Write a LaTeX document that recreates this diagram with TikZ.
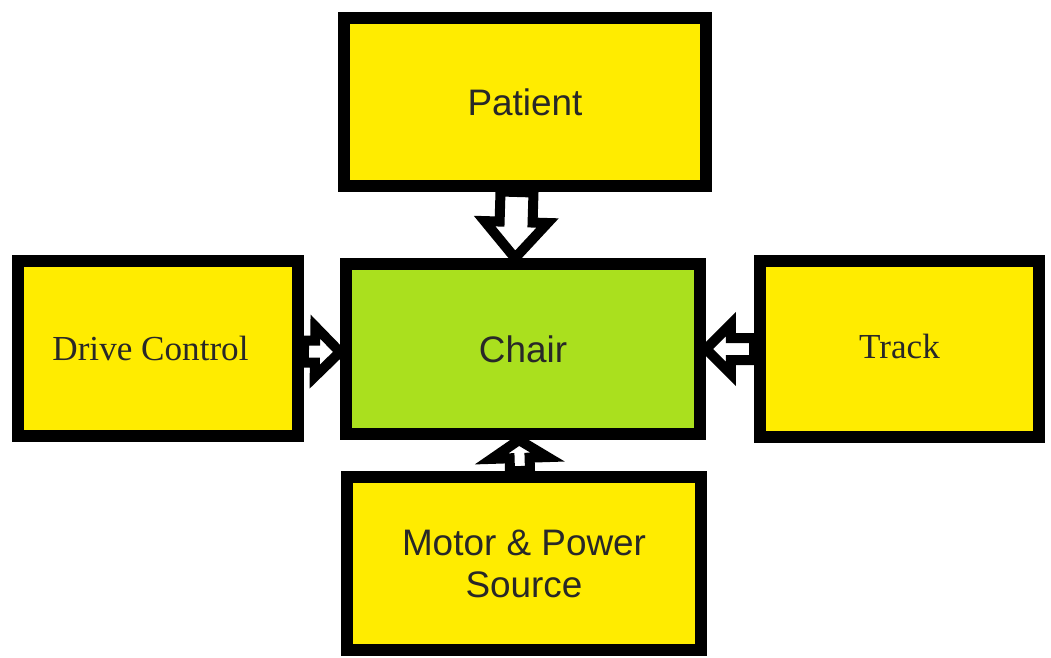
\documentclass[tikz,border=0pt]{standalone}
\usepackage{fontspec}
\setmainfont{Liberation Sans}
\newfontfamily\serifbox{Liberation Serif}
\usetikzlibrary{calc}

\definecolor{boxyellow}{RGB}{255,236,0}
\definecolor{chairgreen}{RGB}{170,224,30}
\definecolor{labelgray}{RGB}{40,40,40}

\tikzset{
	box/.style={draw=black, line width=0.24cm, text=labelgray, align=center,
		inner sep=0pt, font=\fontsize{21}{21}\selectfont},
	% hollow block arrow: shaft half width, head half width, head length
	blockarrow/.style n args={3}{draw=black, line width=0.2cm, fill=white,
		to path={
			let \p1=($(\tikztotarget)!#3!(\tikztostart)$) in
			($(\tikztostart)!#1!90:(\tikztotarget)$)
			-- ($(\p1)!#1!90:(\tikztotarget)$)
			-- ($(\p1)!#2!90:(\tikztotarget)$)
			-- (\tikztotarget)
			-- ($(\p1)!#2!-90:(\tikztotarget)$)
			-- ($(\p1)!#1!-90:(\tikztotarget)$)
			-- ($(\tikztostart)!#1!-90:(\tikztotarget)$)
			-- cycle
		}}
}

\begin{document}
\begin{tikzpicture}[x=0.02cm, y=-0.02cm]
	
	\useasboundingbox (0,0) rectangle (1051,657);
	
	% --- boxes ---
	\node[box, fill=boxyellow, minimum width=7.24cm, minimum height=3.36cm] (patient) at (525,102) {Patient};
	\node[box, fill=chairgreen, minimum width=7.08cm, minimum height=3.4cm] (chair) at (523,349) {Chair};
	\node[box, fill=boxyellow, minimum width=5.6cm, minimum height=3.5cm,
		font=\serifbox\fontsize{20}{20}\selectfont] (drive) at (158,348.5) {\hspace*{-0.3cm}Drive Control};
	\node[box, fill=boxyellow, minimum width=5.58cm, minimum height=3.52cm,
		font=\serifbox\fontsize{20}{20}\selectfont] (track) at (899.5,349) {\raisebox{0.12cm}{Track}};
	\node[box, fill=boxyellow, minimum width=7.08cm, minimum height=3.46cm] (motor) at (524,563.5) {Motor \& Power\\[0.1cm]Source};
	
	% --- arrows into the chair ---
	\draw[blockarrow={0.33cm}{0.63cm}{0.72cm}] ([xshift=-0.16cm]patient.south) to ([xshift=-0.16cm]chair.north);
	\draw[blockarrow={0.22cm}{0.5cm}{0.5cm}] ([yshift=-0.06cm]drive.east) to ([yshift=-0.06cm]chair.west);
	\draw[blockarrow={0.22cm}{0.5cm}{0.5cm}] (track.west) to (chair.east);
	\draw[blockarrow={0.2cm}{0.56cm}{0.36cm}] ([xshift=-0.08cm]motor.north) to ([xshift=-0.08cm]chair.south);
	
\end{tikzpicture}
\end{document}
